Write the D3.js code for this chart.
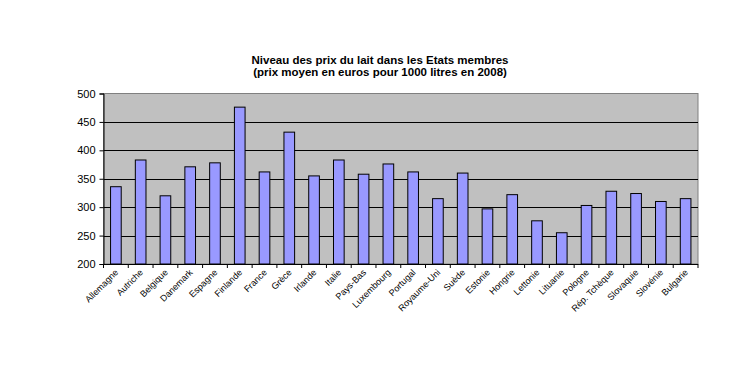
<!DOCTYPE html>
<html><head><meta charset="utf-8">
<script src="https://cdn.jsdelivr.net/npm/d3@7"></script>
<style>body{margin:0;background:#fff}svg{display:block}text{font-family:"Liberation Sans",Arial,sans-serif}</style>
</head><body><svg width="752" height="371"></svg>
<script>
const categories = ["Allemagne","Autriche","Belgique","Danemark","Espagne","Finlande","France","Grèce","Irlande","Italie","Pays-Bas","Luxembourg","Portugal","Royaume-Uni","Suède","Estonie","Hongrie","Lettonie","Lituanie","Pologne","Rép. Tchèque","Slovaquie","Slovénie","Bulgarie"];
const values = [336,383,320,371,378,476,362,432,355,383,358,376,362,315,360,297,322,276,255,303,328,324,310,315];
const yTicks = [200,250,300,350,400,450,500];
const titleLines = ["Niveau des prix du lait dans les Etats membres","(prix moyen en euros pour 1000 litres en 2008)"];

const svg = d3.select("svg");
const m = {left:103.5, right:698, top:93.5, bottom:264};
const x = d3.scaleBand().domain(categories).range([m.left, m.right]).paddingInner(0.57).paddingOuter(0.285);
const y = d3.scaleLinear().domain([200,500]).range([m.bottom, m.top]);

svg.append("rect").attr("x",m.left).attr("y",m.top).attr("width",m.right-m.left).attr("height",m.bottom-m.top)
  .attr("fill","#c0c0c0").attr("stroke","#808080").attr("stroke-width",1);

svg.append("g").selectAll("line").data(yTicks.filter(d=>d>200 && d<500)).join("line")
  .attr("x1",m.left).attr("x2",m.right).attr("y1",d=>Math.round(y(d))+0.5).attr("y2",d=>Math.round(y(d))+0.5)
  .attr("stroke","#000").attr("stroke-width",1);

svg.append("g").selectAll("rect").data(values).join("rect")
  .attr("x",(d,i)=>x(categories[i])).attr("width",x.bandwidth())
  .attr("y",d=>y(d)).attr("height",d=>m.bottom-y(d))
  .attr("fill","#9999ff").attr("stroke","#000").attr("stroke-width",1);

// y axis
const ya = svg.append("g").attr("transform",`translate(${m.left},0)`)
  .call(d3.axisLeft(y).tickValues(yTicks).tickSize(4).tickPadding(4));
ya.select(".domain").attr("stroke","#000");
ya.selectAll("text").attr("font-size",11).attr("fill","#000");

// x axis
const step = x.step();
const xa = svg.append("g");
xa.append("line").attr("x1",m.left).attr("x2",m.right).attr("y1",m.bottom+0.5).attr("y2",m.bottom+0.5).attr("stroke","#000");
xa.selectAll("line.t").data(d3.range(categories.length+1)).join("line").attr("class","t")
  .attr("x1",i=>m.left+i*step).attr("x2",i=>m.left+i*step).attr("y1",m.bottom).attr("y2",m.bottom+4).attr("stroke","#000");
xa.selectAll("text").data(categories).join("text")
  .attr("transform",d=>`translate(${x(d)+x.bandwidth()/2+3},${m.bottom+9}) rotate(-45)`)
  .attr("text-anchor","end").attr("font-size",9).attr("fill","#000").text(d=>d);

svg.append("g").selectAll("text").data(titleLines).join("text")
  .attr("x",380).attr("y",(d,i)=>64+i*12).attr("text-anchor","middle")
  .attr("font-size",11.5).attr("font-weight","bold").attr("fill","#000").text(d=>d);
</script></body></html>
